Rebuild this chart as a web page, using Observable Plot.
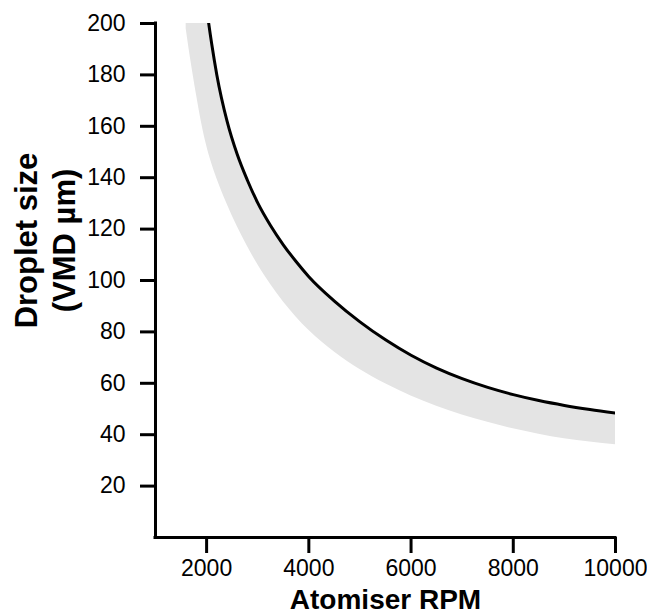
<!DOCTYPE html>
<html><head><meta charset="utf-8">
<script src="https://cdn.jsdelivr.net/npm/d3@7"></script>
<script src="https://cdn.jsdelivr.net/npm/@observablehq/plot@0.6"></script>
<style>body{margin:0;background:#fff}</style>
</head><body><div id="chart"></div>
<script>
const rpm      = [1600, 1700, 1800, 1900, 2000, 2100, 2200, 2400, 2600, 2800, 3000, 3250, 3500, 3750, 4000, 4500, 5000, 5500, 6000, 6500, 7000, 7500, 8000, 8500, 9000, 9500, 10000];
const vmdUpper = [282,  260,  240,  222,  206,  192,  180,  162,  149,  138.9, 130.2, 121.4, 113.9, 107.4, 101.5, 92.0, 83.9, 76.9, 70.9, 65.9, 61.8, 58.4, 55.6, 53.3, 51.4, 49.8, 48.4];
const vmdLower = [198,  184.5, 172.5, 161.5, 152.5, 145.5, 139.7, 129.8, 121, 113.2, 106.2, 98.5, 91.7, 85.8, 80.6, 72.2, 65.4, 59.8, 55.1, 51.1, 47.7, 44.8, 42.3, 40.2, 38.4, 37.2, 36.1];
const xTicks = [2000, 4000, 6000, 8000, 10000];
const yTicks = [20, 40, 60, 80, 100, 120, 140, 160, 180, 200];

const data = rpm.map((r, i) => ({rpm: r, upper: vmdUpper[i], lower: vmdLower[i]}));

const chart = Plot.plot({
  width: 647, height: 614,
  marginLeft: 155, marginRight: 32, marginTop: 23, marginBottom: 77,
  style: {fontFamily: "'Liberation Sans', Arial, sans-serif", background: "#fff", color: "#000"},
  x: {domain: [1000, 10000]},
  y: {domain: [0, 200]},
  marks: [
    Plot.areaY(data, {x: "rpm", y1: "lower", y2: "upper", fill: "#e4e4e4", curve: "monotone-x", clip: true}),
    Plot.lineY(data, {x: "rpm", y: "upper", stroke: "#000", strokeWidth: 3, curve: "monotone-x", clip: true}),
    Plot.axisX(xTicks, {tickSize: 16, strokeWidth: 3, fontSize: 23, tickPadding: 6, label: null, tickFormat: d => String(d)}),
    Plot.axisY(yTicks, {tickSize: 15, strokeWidth: 3, fontSize: 23, tickPadding: 15, label: null, tickFormat: d => String(d)}),
    Plot.ruleX([1000], {y1: 0, y2: 200, strokeWidth: 3, strokeLinecap: "square"}),
    Plot.ruleY([0], {x1: 1000, x2: 10000, strokeWidth: 3, strokeLinecap: "square"}),
    Plot.text(["Atomiser RPM"], {frameAnchor: "bottom", dy: 71, lineAnchor: "bottom", fontSize: 28, fontWeight: "bold", text: d => d}),
    Plot.text(["Droplet size\n(VMD µm)"], {frameAnchor: "left", textAnchor: "middle", dx: -111.5, dy: -40, rotate: -90, lineHeight: 1.2, fontSize: 31, fontWeight: "bold", text: d => d})
  ]
});
document.getElementById("chart").appendChild(chart);
</script>
</body></html>
